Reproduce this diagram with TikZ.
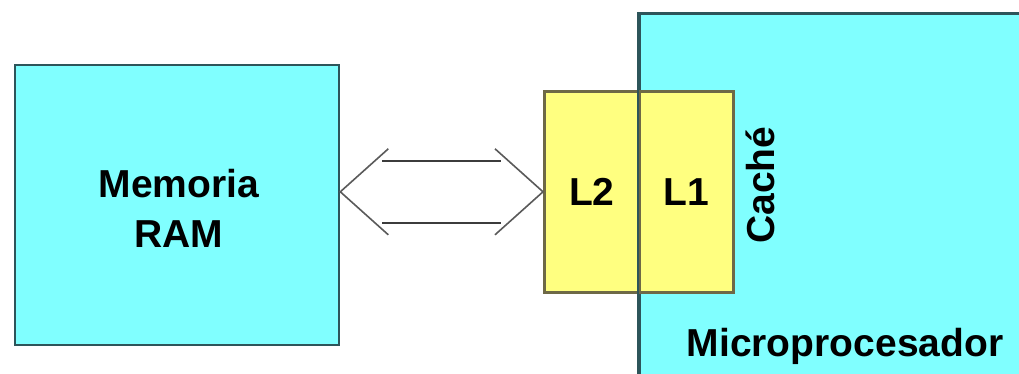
\documentclass[tikz,border=0pt]{standalone}
\usepackage{fontspec}
\setmainfont{Liberation Sans}
\usetikzlibrary{calc}
\definecolor{boxcyan}{RGB}{128,255,255}
\definecolor{boxedge}{RGB}{45,85,90}
\definecolor{cachefill}{RGB}{255,255,128}
\definecolor{cacheedge}{RGB}{110,105,70}
\definecolor{busline}{RGB}{90,90,90}
\definecolor{busshaft}{RGB}{60,60,60}
\tikzset{
  unitbox/.style={draw=boxedge, fill=boxcyan, line width=2.6pt, inner sep=0pt},
  cachebox/.style={draw=cacheedge, fill=cachefill, line width=2.6pt, inner sep=0pt,
    minimum height=201pt},
  lbl/.style={font=\fontsize{39}{50}\selectfont\bfseries, text=black, align=center},
  bus/.style={draw=busline, line width=1.6pt},
  busbar/.style={draw=busshaft, line width=2.2pt},
}
\begin{document}
\begin{tikzpicture}[x=1pt, y=-1pt]
\clip (0,0) rectangle (1019,374);
\fill[white] (0,0) rectangle (1019,374);

% main memory
\node[unitbox, minimum width=324pt, minimum height=280pt] (ram) at (177,205) {};
\node[lbl] (ramtxt) at (179,208) {Memoria\\RAM};

% processor block (runs off the right and bottom edges)
\node[unitbox, anchor=north west, minimum width=420pt, minimum height=380pt] (cpu) at (638,12) {};

% cache levels
\node[cachebox, anchor=north west, minimum width=95pt] (l2) at (543,90) {};
\node[cachebox, anchor=north west, minimum width=94pt] (l1) at (638,90) {};
\draw[boxedge, line width=2.6pt] (cpu.north west) -- (cpu.south west);
\node[lbl] (l2txt) at (l2.center) {L2};
\node[lbl] (l1txt) at (l1.center) {L1};
\node[lbl, rotate=90] (cachetxt) at (760,185) {Caché};
\node[lbl] (cputxt) at (845,346) {Microprocesador};

% bus between memory and cache
\coordinate (a) at (ram.east |- l2.west);
\coordinate (b) at (l2.west);
\draw[bus] ($(a)+(48,-43)$) -- (a) -- ($(a)+(48,43)$);
\draw[bus] ($(b)+(-48,-43)$) -- (b) -- ($(b)+(-48,43)$);
\draw[busbar] ($(a)+(42,-31)$) -- ($(b)+(-42,-31)$);
\draw[busbar] ($(a)+(42,31)$) -- ($(b)+(-42,31)$);
\end{tikzpicture}
\end{document}
